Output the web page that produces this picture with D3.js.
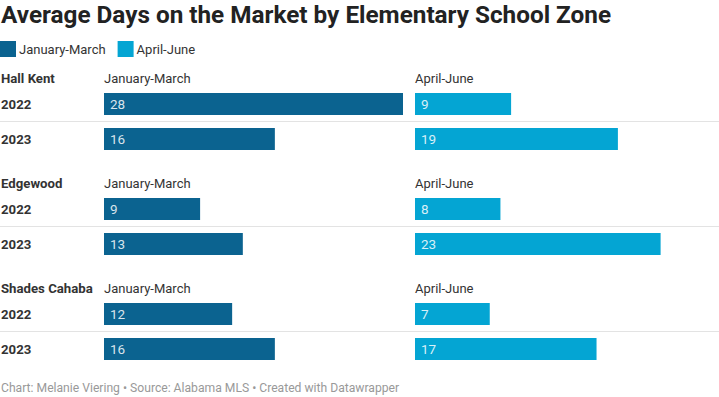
<!DOCTYPE html>
<html><head><meta charset="utf-8">
<script src="https://cdn.jsdelivr.net/npm/d3@7"></script>
<style>
html,body{margin:0;padding:0;background:#fff;}
svg{display:block;font-family:Roboto,"Noto Sans",sans-serif;}
</style></head>
<body>
<svg id="c" width="719" height="397"></svg>
<script>
const titleText = "Average Days on the Market by Elementary School Zone";
const footerText = "Chart: Melanie Viering \u2022 Source: Alabama MLS \u2022 Created with Datawrapper";
const schools = ["Hall Kent", "Edgewood", "Shades Cahaba"];
const years = ["2022", "2023"];
const series = ["January-March", "April-June"];
const janMarch = [28, 16, 9, 13, 12, 16];
const aprilJune = [9, 19, 8, 23, 7, 17];
const colors = ["#0b6390", "#04a5d3"];

const rows = [];
schools.forEach((s, i) => years.forEach((y, j) => {
  rows.push({school: s, year: y, values: [janMarch[i * 2 + j], aprilJune[i * 2 + j]]});
}));

const svg = d3.select("#c");

svg.append("text").attr("x", 1).attr("y", 23)
  .attr("font-size", 24.3).attr("font-weight", 700).attr("fill", "#222")
  .text(titleText);

// legend
const leg = svg.append("g");
let lx = 0;
series.forEach((s, i) => {
  const g = leg.append("g").attr("transform", `translate(${lx},0)`);
  g.append("rect").attr("x", 0).attr("y", 41).attr("width", 16).attr("height", 16).attr("fill", colors[i]);
  const t = g.append("text").attr("x", 19).attr("y", 54).attr("font-size", 13).attr("fill", "#333").text(s);
  lx += 19 + t.node().getComputedTextLength() + 12;
});

const colX = d3.scaleBand().domain(series).range([104, 715]).paddingInner(11 / 311).paddingOuter(0);
const x = d3.scaleLinear().domain([0, 28]).range([0, 299]);
const groupY = d3.scaleBand().domain(schools).range([70, 385]);
const yearY = d3.scaleBand().domain(years).range([23, 80]).paddingInner(13 / 35).paddingOuter(0);

const groups = svg.selectAll("g.grp").data(schools).join("g")
  .attr("class", "grp")
  .attr("transform", d => `translate(0,${groupY(d)})`);

groups.append("text").attr("x", 1).attr("y", 13)
  .attr("font-size", 13.2).attr("font-weight", 700).attr("fill", "#333").text(d => d);

series.forEach(s => {
  groups.append("text").attr("x", colX(s)).attr("y", 13)
    .attr("font-size", 13).attr("fill", "#333").text(s);
});

groups.append("line")
  .attr("x1", 0).attr("x2", 719)
  .attr("y1", yearY(years[0]) + yearY.bandwidth() + 6.5)
  .attr("y2", yearY(years[0]) + yearY.bandwidth() + 6.5)
  .attr("stroke", "#e3e3e3").attr("stroke-width", 1);

const rowG = groups.selectAll("g.row").data(d => rows.filter(r => r.school === d)).join("g")
  .attr("class", "row")
  .attr("transform", d => `translate(0,${yearY(d.year)})`);

rowG.append("text").attr("x", 1).attr("y", yearY.bandwidth() / 2 + 5)
  .attr("font-size", 13.2).attr("font-weight", 700).attr("fill", "#333").text(d => d.year);

series.forEach((s, i) => {
  rowG.append("rect").attr("x", colX(s)).attr("y", 0)
    .attr("width", d => x(d.values[i])).attr("height", yearY.bandwidth())
    .attr("fill", colors[i]);
  rowG.append("text").attr("x", colX(s) + 6).attr("y", yearY.bandwidth() / 2 + 5)
    .attr("font-size", 13.5).attr("fill", "#fff").attr("fill-opacity", 0.85)
    .text(d => d.values[i]);
});

svg.append("text").attr("x", 1).attr("y", 392)
  .attr("font-size", 12.15).attr("fill", "#999").text(footerText);
</script>
</body></html>
